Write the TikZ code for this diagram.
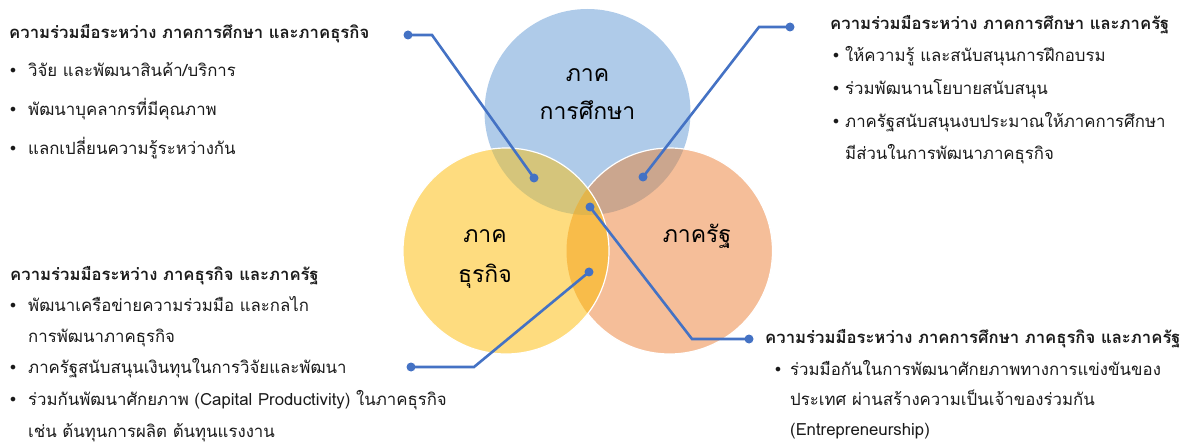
\documentclass[tikz,border=0pt]{standalone}
\usepackage{fontspec}
\newfontfamily\thaifont[Script=Thai]{Loma}
\newfontfamily\dejavu{DejaVu Sans}
\definecolor{linkblue}{HTML}{4472C4}
\definecolor{cblue}{HTML}{AFCBE9}
\definecolor{cyellow}{HTML}{FEDC7F}
\definecolor{corange}{HTML}{F5BE99}
\definecolor{cby}{HTML}{D5C57B}
\definecolor{cbo}{HTML}{CBA68E}
\definecolor{cyo}{HTML}{F8BC4A}
\definecolor{cbyo}{HTML}{E2B54C}
\definecolor{txt}{HTML}{1A1A1A}
\tikzset{
  link/.style={draw=linkblue, line width=2.6pt},
  dotnode/.style={circle, fill=linkblue, inner sep=0pt, minimum size=9pt},
  head/.style={anchor=base west, inner sep=0pt, text=txt, font=\thaifont\bfseries\fontsize{16.7}{18}\selectfont},
  item/.style={anchor=base west, inner sep=0pt, text=txt, font=\thaifont\fontsize{16.8}{18}\selectfont},
  bul/.style={anchor=base, inner sep=0pt, text=txt, font=\dejavu\fontsize{16}{18}\selectfont},
  biglabel/.style={anchor=base, inner sep=0pt, text=black, font=\thaifont\fontsize{23}{26}\selectfont},
}
\begin{document}
\begin{tikzpicture}[x=1pt,y=-1pt]
\useasboundingbox (0,0) rectangle (1193,443);
% circles
\def\rr{103}
\coordinate (cB) at (587.5,112);
\coordinate (cY) at (506,251);
\coordinate (cO) at (669.5,251);
\fill[cblue] (cB) circle (\rr);
\fill[corange] (cO) circle (\rr);
\begin{scope}
  \clip (cB) circle (\rr);
  \fill[cbo] (cO) circle (\rr);
\end{scope}
\draw[white, line width=1.2pt] (cO) circle (\rr);
\fill[cyellow] (cY) circle (\rr);
\begin{scope}
  \clip (cY) circle (\rr);
  \fill[cby] (cB) circle (\rr);
  \fill[cyo] (cO) circle (\rr);
  \clip (cB) circle (\rr);
  \fill[cbyo] (cO) circle (\rr);
\end{scope}
\draw[white, line width=1.2pt] (cY) circle (\rr);
% circle labels
\node[biglabel] (lb1) at (587.5,82) {ภาค};
\node[biglabel] (lb2) at (587.5,120) {การศึกษา};
\node[biglabel] (ly1) at (485,243) {ภาค};
\node[biglabel] (ly2) at (485,283) {ธุรกิจ};
\node[biglabel] (lo1) at (697,243) {ภาครัฐ};
% connectors
\coordinate (p1) at (408,35);  \coordinate (k1) at (432,35);  \coordinate (q1) at (534,178);
\coordinate (p2) at (790,27);  \coordinate (k2) at (759,27);  \coordinate (q2) at (643,177);
\coordinate (p3) at (749,339); \coordinate (k3) at (692,339); \coordinate (q3) at (590,207);
\coordinate (p4) at (411,367); \coordinate (k4) at (474,367); \coordinate (q4) at (589,272);
\draw[link] (p1) -- (k1) -- (q1);
\draw[link] (p2) -- (k2) -- (q2);
\draw[link] (p3) -- (k3) -- (q3);
\draw[link] (p4) -- (k4) -- (q4);
\foreach \n in {p1,q1,p2,q2,p3,q3,p4,q4} { \node[dotnode] (dot\n) at (\n) {}; }
% top-left block
\node[head] (h1) at (9,39) {ความร่วมมือระหว่าง ภาคการศึกษา และภาคธุรกิจ};
\node[bul] (b11) at (13,77) {•}; \node[item] (t11) at (28,77) {วิจัย และพัฒนาสินค้า/บริการ};
\node[bul] (b12) at (13,116) {•}; \node[item] (t12) at (28,116) {พัฒนาบุคลากรที่มีคุณภาพ};
\node[bul] (b13) at (13,155) {•}; \node[item] (t13) at (28,155) {แลกเปลี่ยนความรู้ระหว่างกัน};
% top-right block
\node[head] (h2) at (830,30) {ความร่วมมือระหว่าง ภาคการศึกษา และภาครัฐ};
\node[bul] (b21) at (836,62) {•}; \node[item] (t21) at (845,62) {ให้ความรู้ และสนับสนุนการฝึกอบรม};
\node[bul] (b22) at (836,95) {•}; \node[item] (t22) at (845,95) {ร่วมพัฒนานโยบายสนับสนุน};
\node[bul] (b23) at (836,128) {•}; \node[item] (t23) at (845,128) {ภาครัฐสนับสนุนงบประมาณให้ภาคการศึกษา};
\node[item] (t24) at (845,160) {มีส่วนในการพัฒนาภาคธุรกิจ};
% bottom-left block
\node[head] (h3) at (10,281) {ความร่วมมือระหว่าง ภาคธุรกิจ และภาครัฐ};
\node[bul] (b31) at (13,312) {•}; \node[item] (t31) at (28,312) {พัฒนาเครือข่ายความร่วมมือ และกลไก};
\node[item] (t32) at (28,342) {การพัฒนาภาคธุรกิจ};
\node[bul] (b33) at (13,373) {•}; \node[item] (t33) at (28,373) {ภาครัฐสนับสนุนเงินทุนในการวิจัยและพัฒนา};
\node[bul] (b34) at (13,405) {•}; \node[item] (t34) at (28,405) {ร่วมกันพัฒนาศักยภาพ (Capital Productivity) ในภาคธุรกิจ};
\node[item] (t35) at (28,437) {เช่น ต้นทุนการผลิต ต้นทุนแรงงาน};
% bottom-right block
\node[head] (h4) at (765,343) {ความร่วมมือระหว่าง ภาคการศึกษา ภาคธุรกิจ และภาครัฐ};
\node[bul] (b41) at (778,375) {•}; \node[item] (t41) at (790,375) {ร่วมมือกันในการพัฒนาศักยภาพทางการแข่งขันของ};
\node[item] (t42) at (790,405) {ประเทศ ผ่านสร้างความเป็นเจ้าของร่วมกัน};
\node[item] (t43) at (790,435) {(Entrepreneurship)};
\end{tikzpicture}
\end{document}
